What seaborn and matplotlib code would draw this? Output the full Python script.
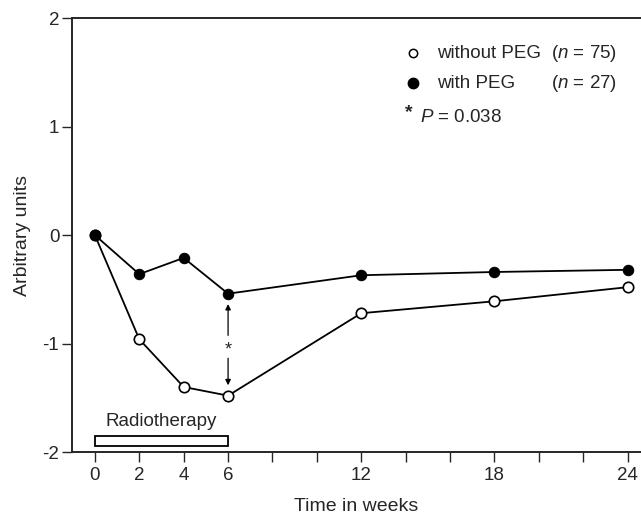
import pandas as pd
import matplotlib
matplotlib.use('Agg')
import matplotlib.pyplot as plt
import seaborn as sns

# Values
weeks = [0, 2, 4, 6, 12, 18, 24]
without_peg = [0.0, -0.96, -1.40, -1.48, -0.72, -0.61, -0.48]
with_peg = [0.0, -0.36, -0.21, -0.54, -0.37, -0.34, -0.32]
xtick_labels = ['0', '2', '4', '6', '', '', '12', '', '', '18', '', '', '24']
radiotherapy = (0, 6)

df = pd.DataFrame({
    'week': weeks * 2,
    'value': without_peg + with_peg,
    'group': ['without PEG'] * len(weeks) + ['with PEG'] * len(weeks),
})

sns.set_style('ticks')
plt.rcParams['font.family'] = ['Liberation Sans', 'DejaVu Sans']
plt.rcParams['mathtext.fontset'] = 'custom'
plt.rcParams['mathtext.it'] = 'Liberation Sans:italic'
plt.rcParams['mathtext.rm'] = 'Liberation Sans'

fig = plt.figure(figsize=(6.41, 5.19), dpi=100)
ax = fig.add_axes([0.112, 0.129, 0.888, 0.836])

# lines
sns.lineplot(data=df[df['group'] == 'without PEG'], x='week', y='value', ax=ax,
             color='black', lw=1.3, marker='o', markersize=7.5,
             markerfacecolor='white', markeredgecolor='black', markeredgewidth=1.2)
sns.lineplot(data=df[df['group'] == 'with PEG'], x='week', y='value', ax=ax,
             color='black', lw=1.3, marker='o', markersize=7.5,
             markerfacecolor='black', markeredgecolor='black')

# significance arrow at week 6
i6 = weeks.index(6)
top, bot = with_peg[i6], without_peg[i6]
mid = -1.03
ax.annotate('', xy=(6, top - 0.07), xytext=(6, mid + 0.08),
            arrowprops=dict(arrowstyle='-|>', color='black', lw=0.9, mutation_scale=8))
ax.annotate('', xy=(6, bot + 0.07), xytext=(6, mid - 0.08),
            arrowprops=dict(arrowstyle='-|>', color='black', lw=0.9, mutation_scale=8))
ax.text(6, mid - 0.03, '*', ha='center', va='center', fontsize=13)

# radiotherapy bar
ax.add_patch(plt.Rectangle((radiotherapy[0], -1.945), radiotherapy[1] - radiotherapy[0], 0.092,
                           facecolor='white', edgecolor='black', lw=1.3))
ax.text(sum(radiotherapy) / 2, -1.72, 'Radiotherapy', ha='center', va='center', fontsize=13.5)

# legend drawn by hand
ax.plot([0.599], [0.919], transform=ax.transAxes, marker='o', ls='', ms=6,
        mfc='white', mec='black', mew=1.1)
ax.plot([0.599], [0.850], transform=ax.transAxes, marker='o', ls='', ms=7.5,
        mfc='black', mec='black')
ax.text(0.641, 0.919, 'without PEG', transform=ax.transAxes, va='center', fontsize=13.5)
ax.text(0.641, 0.850, 'with PEG', transform=ax.transAxes, va='center', fontsize=13.5)
ax.text(0.842, 0.919, r'($\it{n}$ = 75)', transform=ax.transAxes, va='center', fontsize=13.5)
ax.text(0.842, 0.850, r'($\it{n}$ = 27)', transform=ax.transAxes, va='center', fontsize=13.5)
ax.text(0.585, 0.782, '*', transform=ax.transAxes, va='center', fontsize=14, fontweight='bold')
ax.text(0.612, 0.772, r'$\it{P}$ = 0.038', transform=ax.transAxes, va='center', fontsize=13.5)

ax.set_xlim(-1.04, 24.6)
ax.set_ylim(-2, 2)
ax.set_xticks(range(0, 25, 2))
ax.set_xticklabels(xtick_labels)
ax.set_yticks([2, 1, 0, -1, -2])
ax.set_yticklabels(['2', '1', '0', '-1', '-2'])
ax.tick_params(axis='both', labelsize=13.5, length=7, width=1, direction='out')
ax.tick_params(axis='x', pad=4)
ax.tick_params(axis='y', pad=2)
ax.set_xlabel('Time in weeks', fontsize=14, labelpad=10)
ax.set_ylabel('Arbitrary units', fontsize=14, labelpad=8)
ax.spines['right'].set_visible(False)
for s in ['left', 'bottom', 'top']:
    ax.spines[s].set_linewidth(1.4)

fig.savefig('out.png', dpi=100)
